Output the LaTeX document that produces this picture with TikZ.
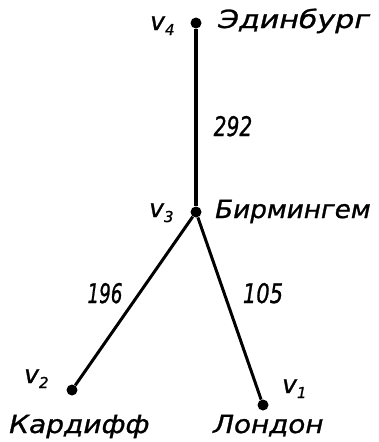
\documentclass[tikz,border=0pt]{standalone}
\usepackage{fontspec}
\setmainfont{DejaVu Sans}
\newfontfamily\lab[FakeBold=1]{DejaVu Sans}
\newcommand{\vv}[1]{{\lab\itshape\fontsize{25}{27}\selectfont v\raisebox{-5pt}{\fontsize{15}{15}\selectfont #1}}}
\begin{document}
\begin{tikzpicture}[x=1pt,y=-1pt,
  vert/.style={circle,fill=black,inner sep=0pt,minimum size=11pt},
  city/.style={anchor=base west,inner sep=0pt,font=\lab\itshape\fontsize{25}{27}\selectfont},
  num/.style={anchor=base,inner sep=0pt,font=\lab\itshape\fontsize{27}{29}\selectfont},
  vlab/.style={anchor=base west,inner sep=0pt},
  edge/.style={line width=3pt}]
\useasboundingbox (0,0) rectangle (378,442);
\node[vert] (v4) at (196,23) {};
\node[vert] (v3) at (196,212) {};
\node[vert] (v2) at (72,390) {};
\node[vert] (v1) at (263,405) {};
\draw[edge,line width=4pt] (v4) -- (v3);
\draw[edge] (v3) -- (v2);
\draw[edge] (v3) -- (v1);
\node[vlab] (l4) at (150,30) {\vv{4}};
\node[vlab] (l3) at (149,217) {\vv{3}};
\node[vlab] (l2) at (24,383) {\vv{2}};
\node[vlab] (l1) at (282,393) {\vv{1}};
\node[city] (c4) at (218,28) {\scalebox{1.2}[1]{Эдинбург}};
\node[city] (c3) at (215,218) {\scalebox{1.05}[1]{Бирмингем}};
\node[city] (c2) at (9,433) {\scalebox{1.12}[1]{Кардифф}};
\node[city] (c1) at (213,433) {\scalebox{1.11}[1]{Лондон}};
\node[num] (n292) at (233,136) {\scalebox{0.75}[1]{292}};
\node[num] (n196) at (105,303) {\scalebox{0.68}[1]{196}};
\node[num] (n105) at (263,303) {\scalebox{0.78}[1]{105}};
\end{tikzpicture}
\end{document}
